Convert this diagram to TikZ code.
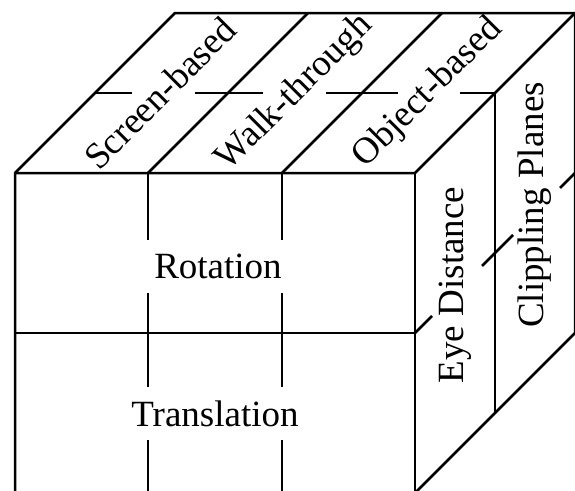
\documentclass[tikz,border=0pt]{standalone}
\usepackage{fontspec}
\setmainfont{Liberation Serif}
\begin{document}
\begin{tikzpicture}[x=1pt,y=-1pt,
  edge/.style={line width=2.5pt,line join=miter,line cap=butt},
  lbl/.style={font=\fontsize{37}{41}\selectfont,inner sep=0pt}]
\clip (0,0) rectangle (575,490);
% outer silhouette of the block
\draw[edge] (15,500)--(15,173)--(175,13)--(575,13)--(575,333)--(415,493);
% front top edge and front right edge
\draw[edge] (15,173)--(415,173)--(575,13);
\draw[edge] (415,173)--(415,500);
% column edges on the top face
\draw[edge] (148,173)--(308,13);
\draw[edge] (282,173)--(442,13);
% mid-depth line on the top face, broken by the labels
\draw[edge] (95,93)--(132,93);
\draw[edge] (195,93)--(263,93);
\draw[edge] (326,93)--(398,93);
\draw[edge] (460,93)--(495,93)--(495,413);
% front face: row divider and broken column lines
\draw[edge] (15,333)--(415,333);
\foreach \cx in {148,282}{
  \draw[edge] (\cx,173)--(\cx,240);
  \draw[edge] (\cx,293)--(\cx,387);
  \draw[edge] (\cx,440)--(\cx,500);
}
% side face: row divider, broken by the labels
\draw[edge] (415,333)--(432,316);
\draw[edge] (482,266)--(513,235);
\draw[edge] (560,188)--(575,173);
% labels
\node[lbl,rotate=45] (scr) at (160,93) {Screen-based};
\node[lbl,rotate=45] (walk) at (295,93) {Walk-through};
\node[lbl,rotate=45] (obj) at (428,93) {Object-based};
\node[lbl] (rot) at (218,266) {Rotation};
\node[lbl] (tra) at (215,414) {Translation};
\node[lbl,rotate=90] (eye) at (455,285) {Eye Distance};
\node[lbl,rotate=90] (clip) at (535,205) {Clippling Planes};
\end{tikzpicture}
\end{document}
